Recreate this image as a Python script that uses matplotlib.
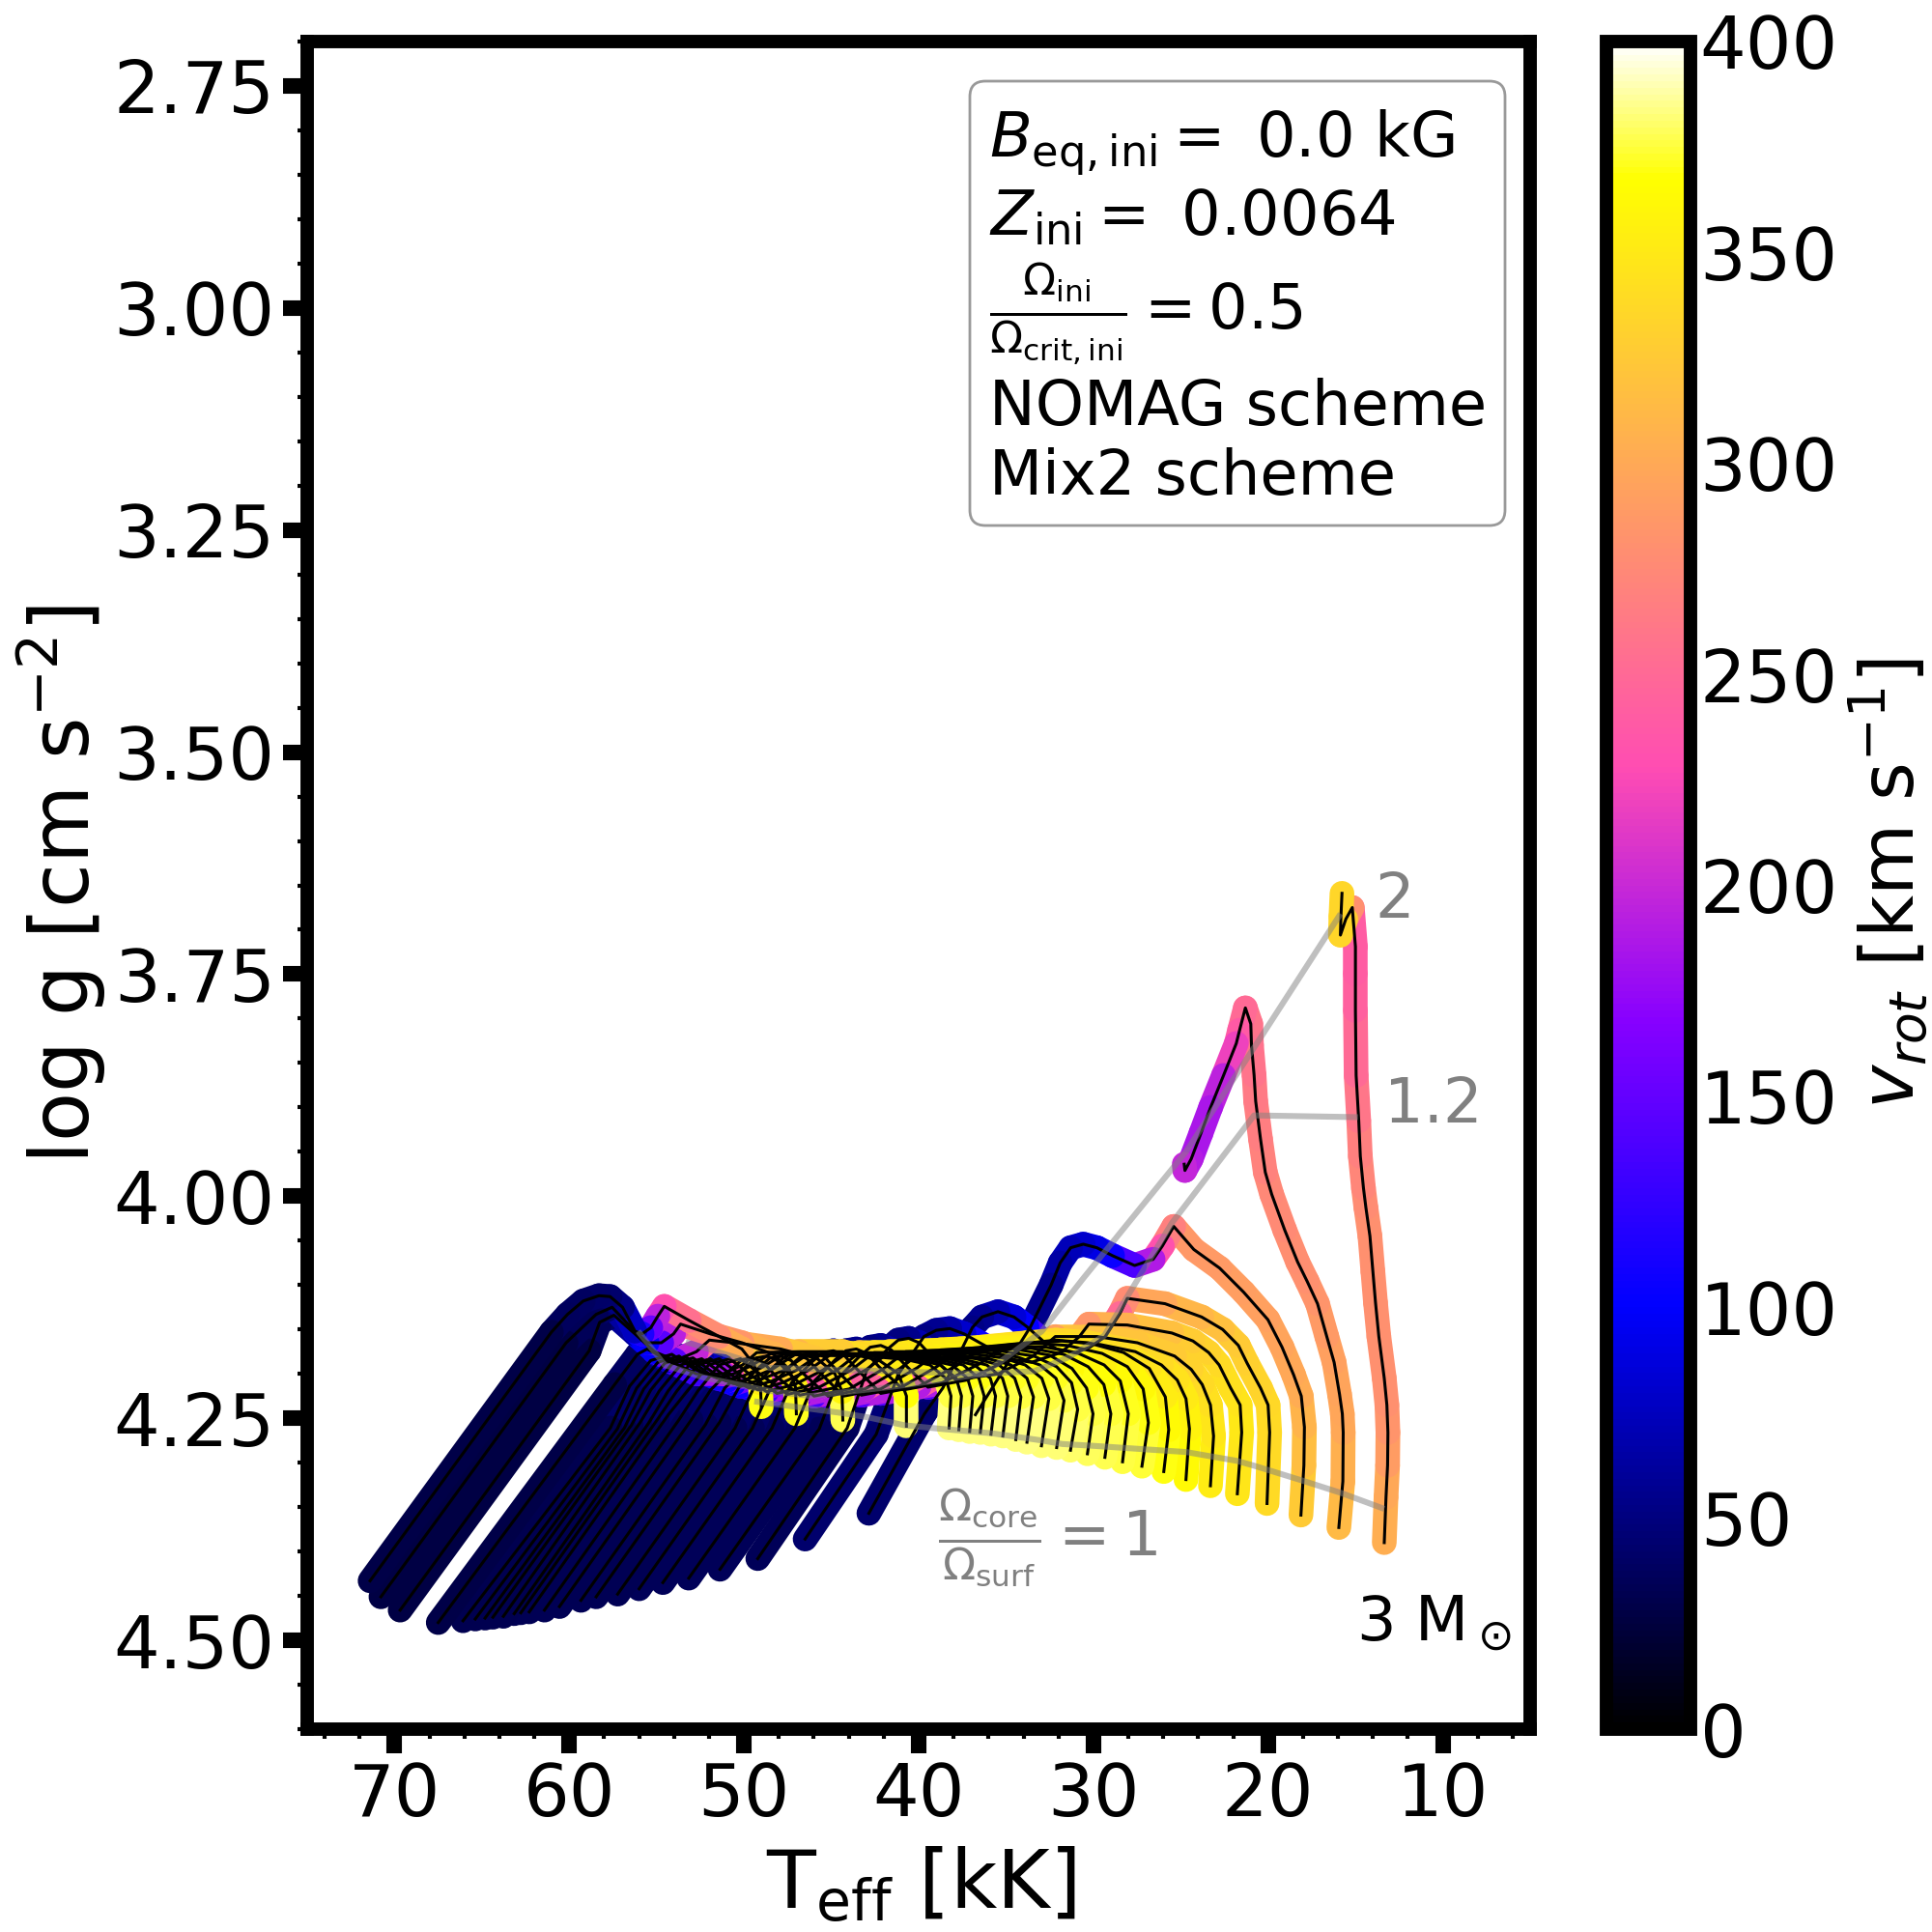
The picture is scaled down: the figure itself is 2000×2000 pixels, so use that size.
import numpy as np
import matplotlib
matplotlib.use("Agg")
import matplotlib.pyplot as plt
from matplotlib.collections import LineCollection
from matplotlib.patches import FancyBboxPatch
from matplotlib.ticker import MultipleLocator, FormatStrFormatter

# tracks: Teff [kK], log g, v_rot [km/s], one per mass, low to high
t01_teff = [13.35,13.25,13.16,13.14,13.2,13.35,13.66,13.85,14.0,14.17,14.4,14.54,14.72,14.81,14.96,15.0,15.0,15.0,15.18,15.55,15.86,15.83,15.77]
t01_logg = [4.39,4.339,4.303,4.266,4.235,4.205,4.158,4.12,4.085,4.045,4.013,3.991,3.955,3.915,3.864,3.791,3.75,3.719,3.675,3.688,3.706,3.685,3.659]
t01_vrot = [305,302,295,285,282,280,280,280,280,280,280,275,270,265,255,245,240,240,240,320,335,335,335]
t02_teff = [15.95,15.72,15.7,15.75,15.91,16.22,16.64,17.17,17.76,18.31,19.05,19.79,20.16,20.43,20.71,20.8,20.95,20.99,21.3,21.63,21.82,22.55,23.29,23.84,24.4,24.76,24.8]
t02_logg = [4.373,4.321,4.266,4.245,4.223,4.187,4.158,4.121,4.096,4.074,4.038,3.998,3.973,3.936,3.893,3.864,3.83,3.806,3.788,3.813,3.828,3.864,3.9,3.929,3.958,3.971,3.964]
t02_vrot = [315,310,300,298,297,295,290,285,282,280,278,275,272,268,265,260,258,255,262,240,235,205,185,185,185,195,200]
t03_teff = [18.12,17.95,17.92,18.1,18.54,19.2,20.01,21.4,22.77,24.25,25.4,26.05,26.58,27.64,28.9,29.8,30.58,31.3,31.9,32.42,33.6,36.75]
t03_logg = [4.359,4.303,4.26,4.225,4.201,4.17,4.139,4.108,4.081,4.06,4.034,4.056,4.071,4.078,4.067,4.058,4.054,4.058,4.075,4.1,4.147,4.246]
t03_vrot = [330,320,312,305,300,297,295,292,290,288,285,250,215,160,115,95,85,75,70,60,50,40]
t04_teff = [20.06,19.91,20.0,20.43,21.2,21.7,22.6,23.8,25.9,28.06,28.48,29.32,30.2,31.02,32.1,32.88,33.8,34.54,35.46,36.38,36.93,38.62,39.67,42.85]
t04_logg = [4.346,4.266,4.235,4.216,4.188,4.168,4.15,4.136,4.121,4.115,4.132,4.158,4.17,4.176,4.172,4.163,4.147,4.136,4.13,4.136,4.148,4.216,4.245,4.357]
t04_vrot = [335,340,338,335,332,330,322,315,305,290,265,235,205,185,160,150,110,90,80,60,55,50,45,40]
t05_teff = [21.76,21.51,21.6,22.14,22.8,23.4,24.3,25.51,28.06,30.26,30.8,31.85,33.55,34.83,36.5,37.4,38.22,39.0,39.7,41.18,42.43,46.5]
t05_logg = [4.335,4.266,4.235,4.216,4.19,4.176,4.163,4.154,4.145,4.144,4.158,4.176,4.187,4.183,4.165,4.155,4.149,4.151,4.158,4.201,4.268,4.386]
t05_vrot = [345,350,348,345,340,335,330,325,310,300,270,235,185,150,120,90,70,60,55,50,45,40]
t06_teff = [23.3,23.12,23.3,23.77,24.4,25.35,27.48,29.8,32.18,33.45,35.45,37.87,39.27,39.97,40.57,41.17,41.77,42.97,44.09,49.21]
t06_logg = [4.326,4.27,4.235,4.212,4.195,4.18,4.165,4.158,4.158,4.18,4.2,4.207,4.18,4.165,4.16,4.162,4.172,4.196,4.261,4.408]
t06_vrot = [355,350,345,340,335,330,322,320,320,265,215,165,110,75,60,52,48,44,38,33]
t07_teff = [24.7,24.5,24.7,25.2,26.1,27.6,29.6,31.8,33.75,35.05,37.25,39.47,40.87,41.57,42.17,42.77,43.37,44.57,45.69,51.37]
t07_logg = [4.319,4.262,4.228,4.207,4.19,4.175,4.167,4.163,4.166,4.186,4.207,4.215,4.188,4.173,4.168,4.17,4.18,4.204,4.262,4.42]
t07_vrot = [365,360,355,348,342,336,332,330,330,265,215,165,110,75,60,52,48,44,38,32]
t08_teff = [25.97,25.69,25.88,26.8,28.27,30.3,32.14,35.15,36.45,38.65,40.87,42.27,42.97,43.57,44.17,44.77,45.97,47.08,53.16]
t08_logg = [4.31,4.263,4.226,4.194,4.176,4.165,4.162,4.168,4.188,4.21,4.218,4.192,4.177,4.172,4.174,4.184,4.208,4.261,4.43]
t08_vrot = [372,368,358,348,342,337,335,335,265,215,165,110,75,60,52,48,44,38,32]
t09_teff = [27.22,26.85,27.15,28.05,29.5,31.5,33.8,36.45,37.77,39.97,42.17,43.57,44.27,44.88,45.48,46.08,47.28,48.39,54.64]
t09_logg = [4.304,4.255,4.217,4.192,4.177,4.168,4.165,4.17,4.19,4.214,4.222,4.194,4.179,4.174,4.176,4.186,4.21,4.261,4.435]
t09_vrot = [375,373,366,356,348,344,342,340,265,215,165,110,75,60,52,48,44,38,31]
t10_teff = [28.33,28.0,28.46,29.38,30.85,32.7,35.0,37.65,38.97,41.07,43.29,44.69,45.39,45.99,46.59,47.19,48.39,49.51,56.0]
t10_logg = [4.299,4.245,4.208,4.19,4.177,4.17,4.168,4.172,4.192,4.216,4.224,4.196,4.181,4.176,4.178,4.188,4.212,4.261,4.442]
t10_vrot = [378,375,368,360,352,349,347,345,265,215,165,110,75,60,52,48,44,38,31]
t11_teff = [29.34,29.0,29.4,30.3,31.7,33.6,36.0,38.75,40.07,42.17,44.29,45.69,46.39,46.99,47.6,48.2,49.4,50.51,57.23]
t11_logg = [4.294,4.245,4.212,4.192,4.178,4.171,4.17,4.173,4.193,4.217,4.225,4.198,4.183,4.178,4.18,4.19,4.214,4.261,4.448]
t11_vrot = [380,376,372,365,358,354,352,350,265,215,165,110,75,60,52,48,44,38,30]
t12_teff = [30.34,30.02,30.39,31.22,32.5,34.5,37.0,39.75,41.07,43.07,45.19,46.59,47.3,47.9,48.5,49.1,50.31,51.41,58.46]
t12_logg = [4.29,4.245,4.216,4.194,4.179,4.172,4.172,4.174,4.194,4.217,4.225,4.2,4.185,4.18,4.182,4.192,4.216,4.255,4.451]
t12_vrot = [382,377,373,367,360,356,353,350,265,215,165,110,75,60,52,48,44,38,30]
t13_teff = [31.31,30.9,31.25,32.1,33.4,35.4,37.9,40.75,42.07,43.97,45.99,47.4,48.1,48.7,49.3,49.9,51.1,52.2,59.33]
t13_logg = [4.286,4.24,4.21,4.192,4.18,4.174,4.173,4.175,4.195,4.217,4.225,4.2,4.185,4.18,4.182,4.192,4.216,4.257,4.455]
t13_vrot = [384,378,374,368,362,357,353,350,265,215,165,110,75,60,52,48,44,38,30]
t14_teff = [32.1,31.68,32.14,33.06,34.35,36.2,38.8,41.65,42.98,44.89,46.8,48.2,48.9,49.5,50.1,50.7,51.9,53.02,60.56]
t14_logg = [4.283,4.23,4.205,4.19,4.181,4.176,4.175,4.175,4.195,4.216,4.224,4.202,4.187,4.182,4.184,4.194,4.218,4.252,4.462]
t14_vrot = [386,378,374,368,362,357,353,350,265,215,165,110,75,60,52,48,44,38,29]
t15_teff = [32.97,32.55,32.95,33.9,35.2,37.1,39.6,42.55,43.89,45.69,47.5,48.9,50.2,51.42,52.63,53.73,61.42]
t15_logg = [4.281,4.228,4.205,4.19,4.182,4.177,4.176,4.176,4.196,4.215,4.223,4.203,4.183,4.19,4.219,4.252,4.466]
t15_vrot = [387,378,374,368,362,355,350,345,265,215,160,110,60,50,45,38,29]
t16_teff = [33.8,33.43,33.8,34.72,36.0,38.0,40.5,43.4,44.69,46.4,48.1,49.5,50.82,52.03,53.23,54.33,62.29]
t16_logg = [4.277,4.226,4.205,4.19,4.183,4.178,4.177,4.176,4.196,4.214,4.222,4.203,4.183,4.19,4.219,4.246,4.468]
t16_vrot = [388,378,374,368,360,354,350,345,265,215,155,105,60,50,45,38,28]
t17_teff = [34.44,34.15,34.5,35.4,36.7,38.8,41.3,44.15,45.5,47.1,48.7,50.1,51.42,52.63,53.83,54.94,62.77]
t17_logg = [4.274,4.226,4.205,4.19,4.183,4.178,4.178,4.177,4.196,4.212,4.22,4.203,4.183,4.19,4.219,4.251,4.469]
t17_vrot = [389,378,374,368,360,354,348,340,265,210,150,100,60,50,45,38,28]
t18_teff = [35.18,34.9,35.2,36.1,37.4,39.5,42.1,44.95,46.3,47.8,49.2,50.6,51.92,53.13,54.33,55.44,63.15]
t18_logg = [4.27,4.225,4.205,4.19,4.184,4.179,4.178,4.177,4.196,4.21,4.218,4.203,4.183,4.19,4.219,4.255,4.47]
t18_vrot = [390,378,374,367,358,352,345,335,265,200,130,95,60,50,45,38,28]
t19_teff = [35.86,35.6,35.9,36.8,38.1,40.2,42.8,45.65,47.0,48.4,49.7,51.1,52.42,53.63,54.84,55.95,63.77]
t19_logg = [4.268,4.225,4.205,4.19,4.184,4.18,4.179,4.178,4.196,4.208,4.216,4.202,4.183,4.19,4.219,4.255,4.473]
t19_vrot = [390,378,374,367,358,350,342,330,265,195,125,90,60,50,45,38,27]
t20_teff = [36.47,36.25,36.55,37.45,38.8,40.9,43.5,46.35,47.7,49.0,50.2,51.6,52.92,54.13,55.33,56.45,64.37]
t20_logg = [4.266,4.225,4.205,4.19,4.184,4.18,4.179,4.178,4.196,4.206,4.214,4.201,4.182,4.189,4.218,4.258,4.474]
t20_vrot = [390,378,374,366,356,348,338,325,260,195,120,90,60,50,45,38,27]
t21_teff = [37.08,36.9,37.2,38.1,39.5,41.6,44.2,47.05,48.4,49.5,50.6,52.0,53.32,54.53,55.74,56.85,64.82]
t21_logg = [4.265,4.225,4.205,4.19,4.184,4.18,4.179,4.178,4.195,4.204,4.211,4.2,4.181,4.188,4.217,4.261,4.475]
t21_vrot = [390,378,374,366,355,345,334,320,255,190,120,88,60,50,45,38,27]
t22_teff = [37.7,37.55,37.85,38.75,40.1,42.3,44.9,47.75,49.0,50.0,51.0,52.4,53.72,54.93,56.14,57.25,65.38]
t22_logg = [4.263,4.225,4.205,4.19,4.184,4.18,4.179,4.178,4.193,4.202,4.208,4.198,4.18,4.187,4.216,4.262,4.476]
t22_vrot = [390,378,374,365,353,342,330,315,250,190,125,85,58,50,45,38,26]
t23_teff = [38.26,38.15,38.45,39.35,40.7,42.9,45.5,48.45,49.6,50.6,51.5,52.8,54.13,55.34,56.55,57.65,66.08]
t23_logg = [4.261,4.225,4.205,4.19,4.184,4.18,4.179,4.177,4.191,4.2,4.205,4.195,4.178,4.185,4.214,4.261,4.478]
t23_vrot = [390,378,374,365,352,340,326,310,250,190,130,85,58,50,45,38,26]
t24_teff = [40.7,40.7,41.15,42.25,44.35,46.85,49.27,50.08,51.19,52.72,54.32,55.54,56.1,57.4,67.5]
t24_logg = [4.259,4.225,4.2,4.185,4.175,4.175,4.176,4.19,4.2,4.2,4.185,4.172,4.178,4.212,4.48]
t24_vrot = [390,375,360,345,335,320,300,255,205,160,100,55,42,35,24]
t25_teff = [44.34,44.39,44.79,45.8,47.9,50.11,51.98,52.72,53.93,55.13,56.24,57.45,58.26,58.86,69.68]
t25_logg = [4.252,4.22,4.2,4.183,4.172,4.166,4.162,4.175,4.185,4.175,4.155,4.134,4.142,4.174,4.466]
t25_vrot = [385,370,350,335,310,290,270,225,170,120,75,45,38,33,22]
t26_teff = [47.0,47.05,47.4,48.31,50.11,51.92,53.63,54.03,54.73,55.54,56.35,57.55,58.46,60.18,70.78]
t26_logg = [4.245,4.215,4.195,4.178,4.165,4.155,4.144,4.155,4.165,4.165,4.15,4.125,4.133,4.165,4.451]
t26_vrot = [378,365,345,320,295,275,255,215,170,120,80,45,38,33,22]
t27_teff = [49.01,49.06,49.41,50.12,51.42,53.13,54.56,54.93,55.33,55.83,56.24,56.95,57.66,58.3,59.2,60.1,61.02,71.4]
t27_logg = [4.237,4.21,4.19,4.172,4.158,4.14,4.124,4.135,4.148,4.155,4.152,4.125,4.113,4.112,4.118,4.133,4.153,4.433]
t27_vrot = [375,365,340,315,290,265,245,215,175,130,95,55,45,42,40,38,35,22]

tracks = [
    (t01_teff, t01_logg, t01_vrot), (t02_teff, t02_logg, t02_vrot), (t03_teff, t03_logg, t03_vrot),
    (t04_teff, t04_logg, t04_vrot), (t05_teff, t05_logg, t05_vrot), (t06_teff, t06_logg, t06_vrot),
    (t07_teff, t07_logg, t07_vrot), (t08_teff, t08_logg, t08_vrot), (t09_teff, t09_logg, t09_vrot),
    (t10_teff, t10_logg, t10_vrot), (t11_teff, t11_logg, t11_vrot), (t12_teff, t12_logg, t12_vrot),
    (t13_teff, t13_logg, t13_vrot), (t14_teff, t14_logg, t14_vrot), (t15_teff, t15_logg, t15_vrot),
    (t16_teff, t16_logg, t16_vrot), (t17_teff, t17_logg, t17_vrot), (t18_teff, t18_logg, t18_vrot),
    (t19_teff, t19_logg, t19_vrot), (t20_teff, t20_logg, t20_vrot), (t21_teff, t21_logg, t21_vrot),
    (t22_teff, t22_logg, t22_vrot), (t23_teff, t23_logg, t23_vrot), (t24_teff, t24_logg, t24_vrot),
    (t25_teff, t25_logg, t25_vrot), (t26_teff, t26_logg, t26_vrot), (t27_teff, t27_logg, t27_vrot),
]

# lines of constant Omega_core / Omega_surf
omega1_teff = [13.35,15.83,18.06,20.7,21.77,24.7,27.0,30.02,31.77,32.95,35.77,38.67,40.78,42.89,44.44,48.61,49.41]
omega1_logg = [4.352,4.334,4.32,4.304,4.298,4.288,4.285,4.281,4.279,4.275,4.267,4.262,4.258,4.249,4.244,4.233,4.231]
omega12_teff = [14.85,20.8,25.5,28.12,29.37,31.5,33.4,36.27,41.29,46.2,48.61,52.33,54.54,56.06]
omega12_logg = [3.911,3.909,4.03,4.115,4.157,4.182,4.197,4.2,4.214,4.225,4.219,4.204,4.19,4.152]
omega2_teff = [15.85,20.38,24.7,26.6,30.6,32.95,36.27,43.69,48.61,53.33]
omega2_logg = [3.682,3.82,3.95,3.996,4.093,4.152,4.2,4.196,4.193,4.164]

vmin, vmax = 0, 400
ytick_vals = [2.75, 3.0, 3.25, 3.5, 3.75, 4.0, 4.25, 4.5]
xtick_vals = [70, 60, 50, 40, 30, 20, 10]
cbar_ticks = [0, 50, 100, 150, 200, 250, 300, 350, 400]

fig = plt.figure(figsize=(10, 10), dpi=200)
ax = fig.add_axes([318/2000, 1-1790/2000, (1584-318)/2000, (1790-43)/2000])
cax = fig.add_axes([1663/2000, 1-1790/2000, (1750-1663)/2000, (1790-43)/2000])

norm = plt.Normalize(vmin, vmax)
cmap = plt.get_cmap("gnuplot2")

for teff, logg, vrot in tracks:
    pts = np.column_stack([teff, logg])
    segs = np.stack([pts[:-1], pts[1:]], axis=1)
    v = np.array(vrot, dtype=float)
    lc = LineCollection(segs, cmap=cmap, norm=norm, linewidths=9.2, capstyle="round", joinstyle="round", zorder=2)
    lc.set_array(0.5*(v[:-1] + v[1:]))
    ax.add_collection(lc)

for teff, logg, vrot in tracks:
    ax.plot(teff, logg, color="k", lw=1.1, zorder=3)

for tt, gg in [(omega1_teff, omega1_logg), (omega12_teff, omega12_logg), (omega2_teff, omega2_logg)]:
    ax.plot(tt, gg, color="gray", lw=2.2, alpha=0.5, zorder=4, solid_capstyle="butt")

ax.set_xlim(75, 5)
ax.set_ylim(4.6, 2.7)
ax.set_xticks(xtick_vals)
ax.set_yticks(ytick_vals)
ax.xaxis.set_minor_locator(MultipleLocator(2))
ax.yaxis.set_minor_locator(MultipleLocator(0.05))
ax.yaxis.set_major_formatter(FormatStrFormatter("%.2f"))
ax.tick_params(which="major", length=9, width=5.8, labelsize=27, pad=3)
ax.tick_params(which="minor", length=3.6, width=1.5)
for sp in ax.spines.values():
    sp.set_linewidth(5)

sm = plt.cm.ScalarMappable(norm=norm, cmap=cmap)
cb = fig.colorbar(sm, cax=cax)
cb.set_ticks(cbar_ticks)
cb.ax.tick_params(length=0, labelsize=27, pad=3.5)
cb.outline.set_linewidth(5)


def px_text(x, y, s, **kw):
    # position given in pixels of the 2000x2000 figure, from the top left
    return fig.text(x/2000, 1-y/2000, s, **kw)


px_text(953, 1976, r"T$_{\rm eff}$ [kK]", fontsize=30, ha="center", va="baseline")
px_text(64, 915, r"log g [cm s$^{-2}$]", fontsize=30, rotation=90, ha="center", va="center")
px_text(1955, 915, r"$v_{rot}$ [km s$^{-1}$]", fontsize=27.5, rotation=90, ha="center", va="center")

box = FancyBboxPatch((1018/2000, 1-530/2000), (1544-1018)/2000, (530-98)/2000,
                     boxstyle="round,pad=0.007,rounding_size=0.008", transform=fig.transFigure,
                     fc="white", ec="#999999", lw=1.0, zorder=5)
ax.add_patch(box)
box_kw = dict(fontsize=23, ha="left", va="baseline", zorder=6)
px_text(1024, 163, r"$B_{\rm eq,ini} =$ 0.0 kG", **box_kw)
px_text(1024, 244, r"$Z_{\rm ini} =$ 0.0064", **box_kw)
px_text(1024, 342, r"$\frac{\Omega_{\rm ini}}{\Omega_{\rm crit,ini}} = 0.5$", **box_kw)
px_text(1024, 440, "NOMAG scheme", **box_kw)
px_text(1024, 512, "Mix2 scheme", **box_kw)

px_text(1423, 950, "2", fontsize=23, color="gray", va="baseline")
px_text(1433, 1162, "1.2", fontsize=23, color="gray", va="baseline")
px_text(971, 1610, r"$\frac{\Omega_{\rm core}}{\Omega_{\rm surf}} = 1$", fontsize=23, color="gray", va="baseline")
px_text(1404, 1698, r"3 M$_\odot$", fontsize=23, color="k", va="baseline")

fig.savefig("out.png", dpi=200)
